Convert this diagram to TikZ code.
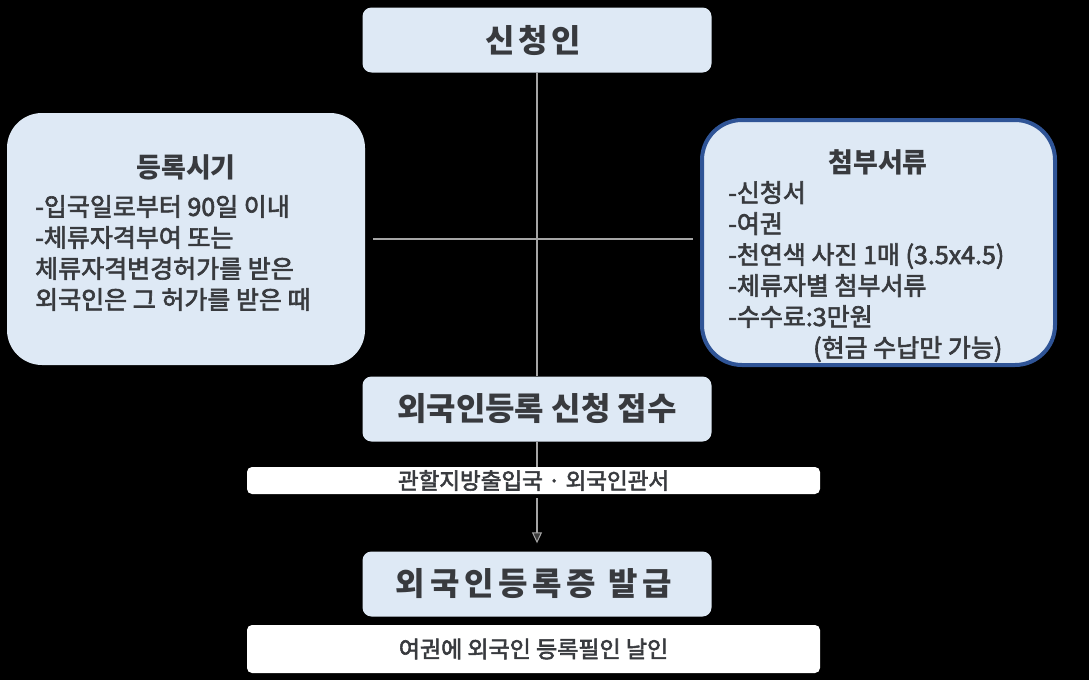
\documentclass[tikz,border=0pt]{standalone}
\usepackage{fontspec}
\setmainfont{Noto Sans CJK KR}
\newfontfamily\medfont{Noto Sans CJK KR}[FakeBold=2.5]
\usetikzlibrary{arrows.meta}
\definecolor{boxblue}{RGB}{222,233,245}
\definecolor{txt}{RGB}{56,58,62}
\definecolor{edgeblue}{RGB}{47,84,150}
\definecolor{linegray}{RGB}{165,165,165}
\definecolor{tipgray}{RGB}{60,60,60}
\tikzset{
  stepbox/.style={fill=boxblue, rounded corners=9pt, minimum width=349pt, minimum height=65pt, inner sep=0pt, text=txt, font=\bfseries\fontsize{32}{36}\selectfont},
  infobox/.style={fill=boxblue, inner sep=0pt},
  whitebar/.style={fill=white, rounded corners=5pt, minimum width=573pt, inner sep=0pt, text=txt},
  conn/.style={draw=linegray, line width=2.5pt},
  btitle/.style={text=txt, font=\bfseries\fontsize{27}{30}\selectfont, inner sep=0pt},
  bbody/.style={text=txt, font=\medfont\fontsize{25}{31}\selectfont, align=left, inner sep=0pt, anchor=north west},
}
\begin{document}
\begin{tikzpicture}[x=1pt,y=-1pt]
\fill[black] (0,0) rectangle (1089,680);
\useasboundingbox (0,0) rectangle (1089,680);

\node[stepbox] (top) at (537,40) {\kern-8pt\addfontfeature{LetterSpace=12}신청인};
\node[stepbox] (recv) at (537,409) {외국인등록 신청 접수};
\node[stepbox] (issue) at (537,584) {\kern-6pt\addfontfeature{LetterSpace=15}외국인등록증 발급};

\node[infobox, rounded corners=35pt, minimum width=358pt, minimum height=252pt] (left) at (186,239) {};
\node[infobox, draw=edgeblue, line width=4pt, rounded corners=40pt, minimum width=353pt, minimum height=245pt] (right) at (878.5,242.5) {};

\node[btitle] (lt) at (186,167) {등록시기};
\node[bbody] (lb) at (35,195) {-입국일로부터 90일 이내\\-체류자격부여 또는\\체류자격변경허가를 받은\\외국인은 그 허가를 받은 때};

\node[btitle] (rt) at (878,162) {첨부서류};
\node[bbody] (rb) at (728,181) {-신청서\\-여권\\-천연색 사진 1매 (3.5x4.5)\\-체류자별 첨부서류\\-수수료:3만원\\\hspace*{85pt}(현금 수납만 가능)};

\node[whitebar, minimum height=27pt, font=\medfont\fontsize{22.5}{24}\selectfont] (bar1) at (533.5,480.5) {관할지방출입국 · 외국인관서};
\node[whitebar, minimum height=48pt, font=\medfont\fontsize{23}{26}\selectfont] (bar2) at (533.5,649) {여권에 외국인 등록필인 날인};

\draw[conn] (top.south) -- (recv.north);
\draw[conn, shorten <=8pt, shorten >=7pt] (left.east) -- (right.west |- left.east);
\draw[conn] (recv.south) -- (bar1.north -| recv.south);
\draw[draw=linegray, line width=2.5pt, -{Triangle[length=11pt,width=10pt,fill=tipgray,line width=1pt]}, shorten <=4pt, shorten >=8pt] (bar1.south -| recv.south) -- (issue.north);
\end{tikzpicture}
\end{document}
